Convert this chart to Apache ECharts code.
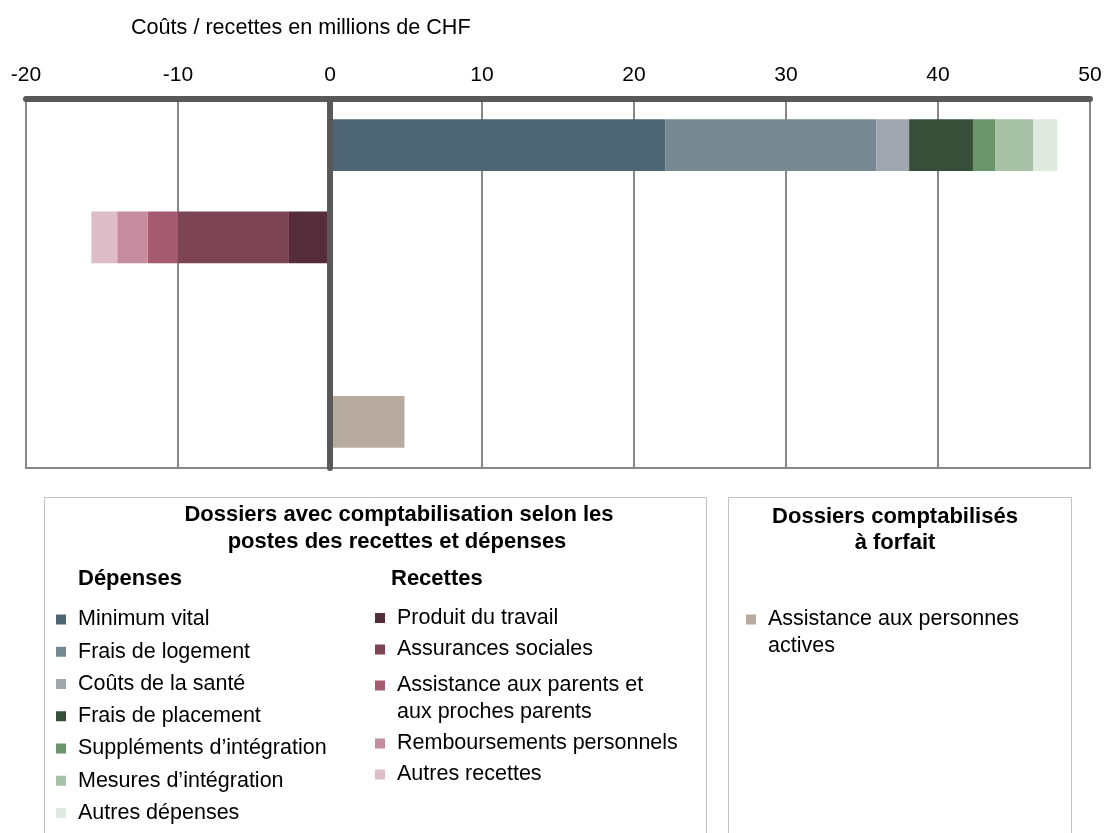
<!DOCTYPE html>
<html>
<head>
<meta charset="utf-8">
<title>Coûts / recettes en millions de CHF</title>
<script src="https://cdn.jsdelivr.net/npm/echarts@6/dist/echarts.min.js"></script>
<style>
  html, body { margin: 0; padding: 0; background: #ffffff; }
  #chart { width: 1105px; height: 833px; }
</style>
</head>
<body>
<div id="chart"></div>
<script>
// Rows of the chart (top to bottom); the third row is left empty.
const categories = ['Dépenses', 'Recettes', '', 'Forfait'];

// Value axis ticks (millions de CHF)
const xTicks = [-20, -10, 0, 10, 20, 30, 40, 50];

// Dossiers avec comptabilisation : dépenses
const depensesNames = [
  'Minimum vital',
  'Frais de logement',
  'Coûts de la santé',
  'Frais de placement',
  'Suppléments d\u2019intégration',
  'Mesures d\u2019intégration',
  'Autres dépenses'
];
const depensesValues = [22.05, 13.9, 2.15, 4.2, 1.45, 2.5, 1.6];
const depensesColors = ['#4e6573', '#768892', '#9fa6ad', '#374f38', '#6b966c', '#a8c2a7', '#e1eae0'];

// Dossiers avec comptabilisation : recettes
const recettesNames = [
  'Produit du travail',
  'Assurances sociales',
  'Assistance aux parents et aux proches parents',
  'Remboursements personnels',
  'Autres recettes'
];
const recettesValues = [-2.7, -7.3, -2.0, -2.0, -1.7];
const recettesColors = ['#552c3a', '#7d4455', '#a45a70', '#c48c9e', '#debcc8'];

// Dossiers comptabilisés à forfait
const forfaitNames = ['Assistance aux personnes actives'];
const forfaitValues = [4.9];
const forfaitColors = ['#b7aba0'];

// Legend labels that wrap onto two lines
const wrappedLabels = {
  'Assistance aux parents et aux proches parents': ['Assistance aux parents et', 'aux proches parents'],
  'Assistance aux personnes actives': ['Assistance aux personnes', 'actives']
};

const FONT = '"Liberation Sans", Arial, sans-serif';

function makeSeries(names, values, colors, rowIndex) {
  return names.map(function (name, i) {
    return {
      name: name,
      type: 'bar',
      stack: 'total',
      barWidth: '56%',
      itemStyle: { color: colors[i] },
      emphasis: { disabled: true },
      data: categories.map(function (_, r) { return r === rowIndex ? values[i] : '-'; })
    };
  });
}

const series = []
  .concat(makeSeries(depensesNames, depensesValues, depensesColors, 0))
  .concat(makeSeries(recettesNames, recettesValues, recettesColors, 1))
  .concat(makeSeries(forfaitNames, forfaitValues, forfaitColors, 3));

function legendBlock(data, left, top, gap) {
  return {
    data: data,
    orient: 'vertical',
    left: left,
    top: top,
    itemGap: gap,
    padding: 0,
    icon: 'rect',
    itemWidth: 10,
    itemHeight: 10,
    selectedMode: false,
    formatter: function (name) {
      // a blank first line keeps the square beside the first text line
      return wrappedLabels[name] ? ' \n' + wrappedLabels[name].join('\n') : name;
    },
    textStyle: {
      fontFamily: FONT,
      fontSize: 21.5,
      color: '#000000',
      lineHeight: 27,
      padding: [0, 0, 0, 7]
    }
  };
}

function label(text, x, y, bold, align) {
  return {
    type: 'text',
    silent: true,
    style: {
      text: text,
      x: x,
      y: y,
      fill: '#000000',
      font: (bold ? 'bold 22' : '21.6') + 'px ' + FONT,
      align: align || 'left',
      textAlign: align || 'left',
      verticalAlign: 'middle',
      textVerticalAlign: 'middle'
    }
  };
}

function box(x, y, w, h) {
  return {
    type: 'rect',
    silent: true,
    shape: { x: x, y: y, width: w, height: h },
    style: { fill: 'none', stroke: '#c3c3c3', lineWidth: 1 }
  };
}

const chart = echarts.init(document.getElementById('chart'), null, { renderer: 'canvas' });

chart.setOption({
  animation: false,
  backgroundColor: '#ffffff',
  grid: {
    left: 26,
    top: 99,
    width: 1064,
    height: 369,
    show: true,
    borderColor: '#888888',
    borderWidth: 2,
    backgroundColor: 'transparent'
  },
  xAxis: {
    type: 'value',
    position: 'top',
    min: xTicks[0],
    max: xTicks[xTicks.length - 1],
    interval: xTicks[1] - xTicks[0],
    axisLine: { show: true, onZero: false, lineStyle: { color: '#595959', width: 6 } },
    axisTick: { show: false },
    axisLabel: { color: '#000000', fontFamily: FONT, fontSize: 21, margin: 13 },
    splitLine: { show: true, lineStyle: { color: '#888888', width: 2 } }
  },
  yAxis: {
    type: 'category',
    data: categories,
    inverse: true,
    z: 10,
    axisLine: { show: true, onZero: true, lineStyle: { color: '#595959', width: 6 } },
    axisTick: { show: false },
    axisLabel: { show: false },
    splitLine: { show: false }
  },
  legend: [
    legendBlock(depensesNames, 56, 606, 5.25),
    legendBlock(recettesNames.slice(0, 2), 375, 604.5, 4.5),
    legendBlock(recettesNames.slice(2), 375, 645, 4),
    legendBlock(forfaitNames, 746, 579, 4)
  ],
  graphic: [
    label('Coûts / recettes en millions de CHF', 131, 28, false),
    box(44.5, 497.5, 662, 400),
    box(728.5, 497.5, 343, 400),
    label('Dossiers avec comptabilisation selon les', 399, 515, true, 'center'),
    label('postes des recettes et dépenses', 397, 542, true, 'center'),
    label('Dépenses', 78, 579, true),
    label('Recettes', 391, 579, true),
    label('Dossiers comptabilisés', 895, 517, true, 'center'),
    label('à forfait', 895, 543, true, 'center')
  ],
  series: series
});
</script>
</body>
</html>
